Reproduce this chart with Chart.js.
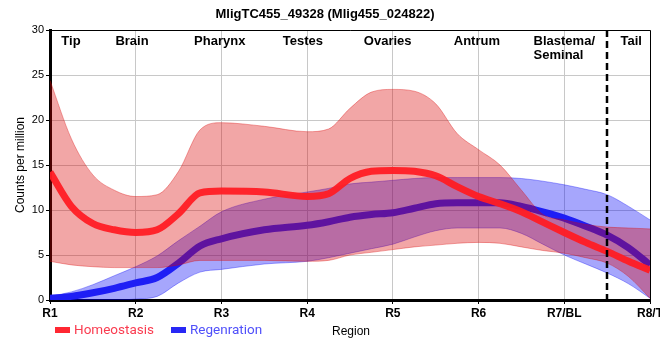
<!DOCTYPE html>
<html><head><meta charset="utf-8">
<style>html,body{margin:0;padding:0;background:#fff}#w{width:660px;height:360px}</style>
<script src="https://cdn.jsdelivr.net/npm/chart.js@4.4.1/dist/chart.umd.min.js"></script>
</head><body><div id="w"><canvas id="c" width="660" height="360"></canvas></div>
<script>
const xPos = [1,1.25,1.5,1.75,2,2.25,2.5,2.75,3,3.5,4,4.25,4.5,4.75,5,5.25,5.5,5.75,6,6.25,6.5,6.75,7,7.25,7.5,7.75,8];
const tickLabels = ['R1','R2','R3','R4','R5','R6','R7/BL','R8/T'];
const homeoMean  = [14.2,10.4,8.5,7.8,7.5,7.8,9.6,11.9,12.1,12.0,11.5,11.8,13.5,14.3,14.4,14.3,13.8,12.6,11.5,10.7,9.8,8.65,7.5,6.4,5.4,4.3,3.3];
const homeoUpper = [24.4,17.9,13.9,12.2,11.5,11.7,14.3,18.9,19.7,19.3,18.7,19.0,21.3,23.1,23.4,23.2,21.8,18.5,16.7,15.0,12.2,9.5,8.9,8.4,8.1,8.0,7.9];
const homeoLower = [4.3,3.9,3.7,3.6,3.6,3.6,3.9,4.4,4.4,4.4,4.3,4.4,5.0,5.3,5.6,5.9,6.1,6.3,6.4,6.3,5.9,5.5,5.2,4.7,4.1,2.6,0.2];
const regenMean  = [0.2,0.4,0.8,1.3,1.9,2.5,4.1,6.0,6.8,7.8,8.3,8.7,9.2,9.5,9.7,10.2,10.7,10.8,10.8,10.8,10.4,9.8,9.1,8.2,7.2,5.8,3.9];
const regenUpper = [0.4,0.9,1.7,2.7,3.7,4.9,6.6,8.2,9.8,11.2,12.0,12.4,12.9,13.1,13.3,13.5,13.6,13.6,13.6,13.6,13.5,13.2,12.8,12.3,11.7,10.4,8.9];
const regenLower = [0,0,0,0,0.1,0.4,1.9,3.1,3.4,4.0,4.3,4.7,5.2,5.7,6.2,7.0,7.7,8.0,8.0,8.0,7.4,6.2,5.0,4.0,3.0,1.8,0.2];
const regionNames = ['Tip','Brain','Pharynx','Testes','Ovaries','Antrum','Blastema/|Seminal','Tail'];
const regionAt = [1.245,1.957,2.98,3.95,4.94,5.98,7.0,7.78];
const boundaryAt = 7.5;
const seriesNames = ['Homeostasis','Regenration'];

const pts = arr => arr.map((v,i)=>({x:xPos[i], y:v}));
const RED = 'rgba(255,28,36,0.95)';
const BLUE = 'rgb(30,30,245)';
const REDBAND = 'rgba(218,0,0,0.35)';
const BLUEBAND = 'rgba(0,0,245,0.35)';
const common = {pointRadius:0, pointHoverRadius:0, cubicInterpolationMode:'monotone'};

const deco = {
  id:'deco',
  afterDatasetsDraw(chart){
    const {ctx, chartArea:a, scales:{x}} = chart;
    ctx.save();
    ctx.strokeStyle='#000'; ctx.lineWidth=1;
    ctx.beginPath();
    ctx.moveTo(a.left, a.top+0.5); ctx.lineTo(a.right+0.5, a.top+0.5); ctx.lineTo(a.right+0.5, a.bottom);
    ctx.stroke();
    const bx = Math.round(x.getPixelForValue(boundaryAt));
    ctx.setLineDash([7,4]); ctx.lineWidth=2.5;
    ctx.beginPath(); ctx.moveTo(bx, a.top); ctx.lineTo(bx, a.bottom); ctx.stroke();
    ctx.setLineDash([]);
    ctx.fillStyle='#000'; ctx.font='bold 13px "Liberation Sans", Arial, sans-serif';
    ctx.textBaseline='alphabetic';
    regionNames.forEach((n,i)=>{
      const cx = x.getPixelForValue(regionAt[i]);
      const lines = n.split('|');
      const w = ctx.measureText(lines[0]).width;
      ctx.textAlign='left';
      lines.forEach((l,j)=>ctx.fillText(l, cx - w/2, a.top + 15 + j*14));
    });
    ctx.restore();
  },
  afterDraw(chart){
    const {ctx} = chart;
    ctx.save();
    ctx.fillStyle='#000'; ctx.font='12px "Liberation Sans", Arial, sans-serif';
    ctx.textAlign='left'; ctx.textBaseline='alphabetic';
    ctx.fillText('Region', 332, 335);
    ctx.font='13.5px Roboto, sans-serif';
    ctx.fillStyle='rgb(255,40,50)'; ctx.fillRect(55,327,15,6);
    ctx.fillStyle='rgb(250,60,80)'; ctx.fillText(seriesNames[0], 74, 334);
    ctx.fillStyle='rgb(40,40,245)'; ctx.fillRect(171,327,15,6);
    ctx.fillStyle='rgb(80,80,250)'; ctx.fillText(seriesNames[1], 190, 334);
    ctx.restore();
  }
};

new Chart(document.getElementById('c'), {
  type:'line',
  data:{datasets:[
    {label:seriesNames[0], data:pts(homeoMean), borderColor:RED, borderWidth:7, fill:false, ...common},
    {label:'hU', data:pts(homeoUpper), borderColor:REDBAND, borderWidth:1, backgroundColor:REDBAND, fill:'+1', ...common},
    {label:'hL', data:pts(homeoLower), borderColor:REDBAND, borderWidth:1, fill:false, ...common},
    {label:seriesNames[1], data:pts(regenMean), borderColor:BLUE, borderWidth:7, fill:false, ...common},
    {label:'rU', data:pts(regenUpper), borderColor:BLUEBAND, borderWidth:1, backgroundColor:BLUEBAND, fill:'+1', ...common},
    {label:'rL', data:pts(regenLower), borderColor:BLUEBAND, borderWidth:1, fill:false, ...common}
  ]},
  options:{
    responsive:false, animation:false, devicePixelRatio:1,
    layout:{padding:{left:0,right:10,top:0,bottom:0}},
    plugins:{
      legend:{display:false}, tooltip:{enabled:false},
      title:{display:true, text:'MligTC455_49328 (Mlig455_024822)', color:'#000',
        font:{family:'"Liberation Sans", Arial, sans-serif', size:13, weight:'bold', lineHeight:1.2},
        padding:{top:7,bottom:7.4}}
    },
    scales:{
      x:{type:'linear', min:1, max:8,
        ticks:{stepSize:1, autoSkip:false, maxRotation:0, color:'#000', padding:2,
          font:{family:'"Liberation Sans", Arial, sans-serif', size:12, weight:'bold'},
          callback:v=>tickLabels[v-1]},
        grid:{color:'#c8c8c8', lineWidth:1, tickLength:4, tickColor:'#000'},
        border:{color:'#000', width:3},
        afterFit:s=>{s.height=60; s.paddingLeft=0; s.paddingRight=0;}
      },
      y:{min:0, max:30,
        ticks:{stepSize:5, color:'#000', padding:2,
          font:{family:'"Liberation Sans", Arial, sans-serif', size:11}},
        title:{display:true, text:'Counts per million', color:'#000',
          font:{family:'"Liberation Sans", Arial, sans-serif', size:12}, padding:{top:13,bottom:0}},
        grid:{color:'#c8c8c8', lineWidth:1, tickLength:4, tickColor:'#000'},
        border:{color:'#000', width:3},
        afterFit:s=>{s.width=50; s.paddingTop=0; s.paddingBottom=0;}
      }
    }
  },
  plugins:[deco]
});
</script></body></html>
